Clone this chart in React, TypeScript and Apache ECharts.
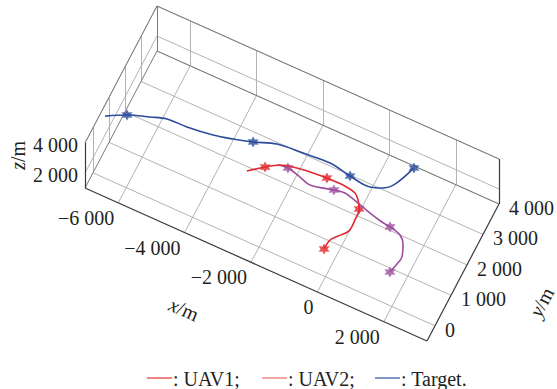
import React, { useEffect, useRef } from 'react';
import * as echarts from 'echarts';

// ---- axis ranges and ticks ----
const X_RANGE = [-7000, 3300];
const Y_RANGE = [-500, 4000];
const Z_RANGE = [1000, 4000];
const X_TICKS = [-6000, -4000, -2000, 0, 2000];
const Y_TICKS = [0, 1000, 2000, 3000, 4000];
const Z_TICKS = [2000, 4000];

// ---- trajectories (m) ----
const TARGET_X = [-6950, -6430, -5845, -5405, -4815, -4075, -3540, -3010, -2400, -1650, -865, -210, 330, 725, 990, 1245];
const TARGET_Y = [655, 945, 1165, 1315, 1340, 1435, 1565, 1725, 1955, 2025, 2080, 1975, 1910, 2035, 2295, 2950];
const TARGET_Z = [3500, 3500, 3500, 3500, 3500, 3500, 3500, 3500, 3500, 3500, 3500, 3500, 3500, 3500, 3500, 3500];
const TARGET_MARKS = [1, 7, 11, 15];

const UAV1_X = [-2980, -2590, -2250, -1800, -1345, -940, -460, -65, 100, 240, 280, 275, 75, -70, -100];
const UAV1_Y = [1280, 1600, 1835, 1955, 2015, 2045, 2050, 1980, 1830, 1605, 1265, 900, 635, 435, 125];
const UAV1_Z = [2500, 2500, 2500, 2500, 2500, 2500, 2500, 2500, 2500, 2500, 2500, 2500, 2500, 2500, 2500];
const UAV1_MARKS = [1, 5, 9, 14];

const UAV2_X = [-2325, -2020, -1610, -1265, -615, -310, 135, 560, 965, 1225, 1570, 1760, 1900, 1870, 1800];
const UAV2_Y = [1800, 1850, 1750, 1660, 1810, 1860, 1750, 1625, 1530, 1495, 1400, 1195, 840, 590, 295];
const UAV2_Z = [2500, 2500, 2500, 2500, 2500, 2500, 2500, 2500, 2500, 2500, 2500, 2500, 2500, 2500, 2500];
const UAV2_MARKS = [1, 4, 9, 14];

const LEGEND_NAMES = ['UAV1', 'UAV2', 'Target'];

// ---- layout / style ----
const W = 557;
const H = 389;
const ORIGIN = [85, 188];
const EX = [342, 153];
const EY = [72, -137];
const EZ = [0, -45];
const FONT = '"Liberation Serif", "Times New Roman", serif';
const TEXT = '#231f20';
const C_TARGET = '#2c4c9c';
const C_UAV1 = '#e0292f';
const C_UAV2 = '#9d4f9f';
const LEG_COLORS = ['#e4333b', '#ec6b6b', '#2c4c9c'];

function P(x: number, y: number, z: number): number[] {
  const u = (x - X_RANGE[0]) / (X_RANGE[1] - X_RANGE[0]);
  const v = (y - Y_RANGE[0]) / (Y_RANGE[1] - Y_RANGE[0]);
  const w = (z - Z_RANGE[0]) / (Z_RANGE[1] - Z_RANGE[0]);
  return [
    ORIGIN[0] + u * EX[0] + v * EY[0] + w * EZ[0],
    ORIGIN[1] + u * EX[1] + v * EY[1] + w * EZ[1],
  ];
}

function fmt(v: number): string {
  const s = Math.abs(v).toString().replace(/\B(?=(\d{3})+(?!\d))/g, ' ');
  return (v < 0 ? '\u2212' : '') + s;
}

function hexagram(): string {
  let d = '';
  for (let k = 0; k < 12; k++) {
    const a = -Math.PI / 2 + (k * Math.PI) / 6;
    const r = k % 2 === 0 ? 10 : 5.4;
    const px = (r * Math.cos(a)).toFixed(2);
    const py = (r * Math.sin(a)).toFixed(2);
    d += (k === 0 ? 'M' : 'L') + px + ' ' + py + ' ';
  }
  return 'path://' + d + 'Z';
}

export default function App() {
  const ref = useRef<HTMLDivElement>(null);
  useEffect(() => {
    document.body.style.margin = '0';
    const chart = echarts.init(ref.current!, null, { renderer: 'svg' });
    const [X0, X1] = X_RANGE;
    const [Y0, Y1] = Y_RANGE;
    const [Z0, Z1] = Z_RANGE;

    const gridSegs: number[][][] = [];
    X_TICKS.forEach((x) => {
      gridSegs.push([P(x, Y0, Z0), P(x, Y1, Z0)]);
      gridSegs.push([P(x, Y1, Z0), P(x, Y1, Z1)]);
    });
    Y_TICKS.forEach((y) => {
      gridSegs.push([P(X0, y, Z0), P(X1, y, Z0)]);
      gridSegs.push([P(X0, y, Z0), P(X0, y, Z1)]);
    });
    Z_TICKS.forEach((z) => {
      gridSegs.push([P(X0, Y1, z), P(X1, Y1, z)]);
      gridSegs.push([P(X0, Y0, z), P(X0, Y1, z)]);
    });
    const boxSegs = [
      [P(X0, Y1, Z0), P(X1, Y1, Z0)],
      [P(X0, Y0, Z0), P(X0, Y1, Z0)],
      [P(X0, Y1, Z0), P(X0, Y1, Z1)],
      [P(X0, Y0, Z1), P(X0, Y1, Z1)],
      [P(X0, Y1, Z1), P(X1, Y1, Z1)],
    ];
    const axisSegs = [
      [P(X0, Y0, Z0), P(X1, Y0, Z0)],
      [P(X1, Y0, Z0), P(X1, Y1, Z0)],
      [P(X0, Y0, Z0), P(X0, Y0, Z1)],
      [P(X1, Y1, Z0), P(X1, Y1, Z1)],
    ];

    const segSeries = (segs: number[][][], color: string, width: number) => ({
      type: 'lines',
      coordinateSystem: 'cartesian2d',
      polyline: false,
      silent: true,
      data: segs.map((s) => ({ coords: s })),
      lineStyle: { color, width, opacity: 1, type: 'solid' },
      effect: { show: false },
    });

    const star = hexagram();
    const traj = (xs: number[], ys: number[], zs: number[], marks: number[], color: string, name: string) => [
      {
        name,
        type: 'line',
        data: xs.map((x, i) => P(x, ys[i], zs[i])),
        smooth: 0.35,
        showSymbol: false,
        symbol: 'none',
        lineStyle: { color, width: 1.6 },
        silent: true,
      },
      {
        name: name + '-marks',
        type: 'scatter',
        data: marks.map((i) => P(xs[i], ys[i], zs[i])),
        symbol: star,
        symbolSize: 11,
        itemStyle: { color },
        silent: true,
      },
    ];

    const textEl = (x: number, y: number, text: string, align: string, style = 'normal') => ({
      type: 'text',
      x,
      y,
      silent: true,
      style: {
        text,
        fill: TEXT,
        font: style + ' 20px ' + FONT,
        align,
        textAlign: align,
        verticalAlign: 'middle',
        textVerticalAlign: 'middle',
      },
    });

    const texts: any[] = [];
    X_TICKS.forEach((x) => {
      const p = P(x, Y0, Z0);
      texts.push(textEl(p[0] - 4, p[1] + 15, fmt(x), 'right'));
    });
    Y_TICKS.forEach((y) => {
      const p = P(X1, y, Z0);
      texts.push(textEl(p[0] + 10, p[1] + 4, fmt(y), 'left'));
    });
    Z_TICKS.forEach((z) => {
      const p = P(X0, Y0, z);
      texts.push(textEl(p[0] - 7, p[1] + 2, fmt(z), 'right'));
    });
    const axisTitle = (x: number, y: number, letter: string, rot: number) => {
      texts.push({
        type: 'group',
        x,
        y,
        rotation: (rot * Math.PI) / 180,
        silent: true,
        children: [
          textEl(-5, 0, letter, 'right', 'italic'),
          textEl(-5, 0, '/m', 'left', 'normal'),
        ],
      });
    };
    axisTitle(18, 157, 'z', 90);
    axisTitle(183, 309, 'x', -24);
    axisTitle(541, 303, 'y', 62);

    const legX = [147, 262, 375];
    LEGEND_NAMES.forEach((nm, i) => {
      texts.push({
        type: 'line',
        silent: true,
        shape: { x1: legX[i], y1: 378, x2: legX[i] + 25, y2: 378 },
        style: { stroke: LEG_COLORS[i], lineWidth: 1.2 },
      });
      texts.push(textEl(legX[i] + 26, 379, ': ' + nm + (i === LEGEND_NAMES.length - 1 ? '.' : ';'), 'left'));
    });

    chart.setOption({
      animation: false,
      backgroundColor: '#ffffff',
      grid: { left: 0, top: 0, width: W, height: H, containLabel: false },
      xAxis: { type: 'value', min: 0, max: W, show: false },
      yAxis: { type: 'value', min: 0, max: H, inverse: true, show: false },
      series: [
        segSeries(gridSegs, '#b3b3b3', 1),
        segSeries(boxSegs, '#7a7a7a', 1),
        segSeries(axisSegs, '#3a3a3a', 1.2),
        ...traj(TARGET_X, TARGET_Y, TARGET_Z, TARGET_MARKS, C_TARGET, 'Target'),
        ...traj(UAV2_X, UAV2_Y, UAV2_Z, UAV2_MARKS, C_UAV2, 'UAV2'),
        ...traj(UAV1_X, UAV1_Y, UAV1_Z, UAV1_MARKS, C_UAV1, 'UAV1'),
      ],
      graphic: texts,
    });
    return () => chart.dispose();
  }, []);
  return <div ref={ref} style={{ width: W, height: H }} />;
}
